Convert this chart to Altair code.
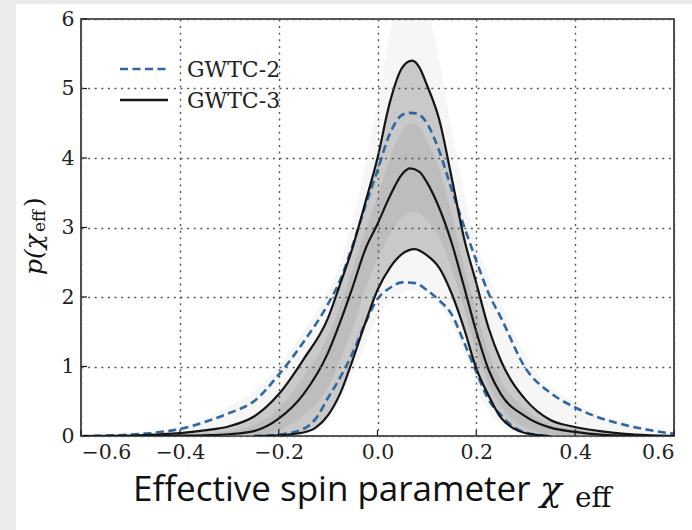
import altair as alt
import pandas as pd

# ---- data ----
X_TICKS = [-0.6, -0.4, -0.2, 0.0, 0.2, 0.4, 0.6]
Y_TICKS = [0, 1, 2, 3, 4, 5, 6]

# GWTC-3 90% upper bound (black)
B3_HI_X = [-0.6, -0.5, -0.45, -0.4, -0.35, -0.3, -0.25, -0.2, -0.15, -0.1, -0.075, -0.05, -0.025, 0.0, 0.025, 0.05, 0.07, 0.085, 0.1, 0.125, 0.15, 0.175, 0.2, 0.225, 0.25, 0.3, 0.35, 0.4, 0.45, 0.5, 0.55, 0.6]
B3_HI_Y = [0, 0.005, 0.02, 0.04, 0.08, 0.14, 0.28, 0.6, 1.1, 1.7, 2.2, 2.72, 3.35, 4.0, 4.8, 5.3, 5.4, 5.3, 5.05, 4.55, 3.72, 2.85, 2.2, 1.55, 1.08, 0.52, 0.23, 0.13, 0.07, 0.03, 0.01, 0.0]
# GWTC-3 median (black)
B3_MED_X = [-0.5, -0.4, -0.35, -0.3, -0.25, -0.2, -0.15, -0.1, -0.075, -0.05, -0.025, 0.0, 0.025, 0.05, 0.066, 0.085, 0.1, 0.125, 0.15, 0.175, 0.2, 0.225, 0.25, 0.3, 0.35, 0.4, 0.45, 0.5, 0.6]
B3_MED_Y = [0, 0.005, 0.01, 0.025, 0.07, 0.25, 0.6, 1.2, 1.65, 2.15, 2.68, 3.05, 3.45, 3.77, 3.85, 3.8, 3.65, 3.28, 2.78, 2.15, 1.5, 0.95, 0.6, 0.28, 0.12, 0.06, 0.02, 0.005, 0]
# GWTC-3 90% lower bound (black)
B3_LO_X = [-0.25, -0.2, -0.15, -0.125, -0.1, -0.075, -0.05, -0.025, 0.0, 0.025, 0.05, 0.075, 0.1, 0.125, 0.15, 0.175, 0.2, 0.225, 0.25, 0.275, 0.3, 0.35]
B3_LO_Y = [0, 0.01, 0.05, 0.12, 0.3, 0.62, 1.1, 1.62, 2.1, 2.42, 2.62, 2.69, 2.6, 2.42, 2.05, 1.55, 0.97, 0.58, 0.26, 0.11, 0.04, 0]
# GWTC-2 90% upper bound (blue dashed)
B2_HI_X = [-0.6, -0.55, -0.5, -0.45, -0.4, -0.35, -0.3, -0.25, -0.2, -0.15, -0.1, -0.075, -0.05, -0.025, 0.0, 0.025, 0.05, 0.065, 0.08, 0.1, 0.125, 0.15, 0.175, 0.2, 0.225, 0.25, 0.3, 0.35, 0.4, 0.45, 0.5, 0.55, 0.6]
B2_HI_Y = [0, 0.005, 0.02, 0.05, 0.1, 0.2, 0.33, 0.5, 0.88, 1.35, 1.9, 2.25, 2.75, 3.3, 3.82, 4.35, 4.62, 4.65, 4.64, 4.5, 4.1, 3.55, 3.02, 2.52, 2.05, 1.7, 0.97, 0.62, 0.41, 0.26, 0.16, 0.085, 0.03]
# GWTC-2 90% lower bound (blue dashed)
B2_LO_X = [-0.25, -0.2, -0.15, -0.125, -0.1, -0.075, -0.05, -0.025, 0.0, 0.025, 0.05, 0.075, 0.1, 0.125, 0.15, 0.175, 0.2, 0.225, 0.25, 0.275, 0.3, 0.35]
B2_LO_Y = [0, 0.02, 0.1, 0.25, 0.55, 0.85, 1.2, 1.62, 1.97, 2.13, 2.21, 2.2, 2.1, 1.95, 1.75, 1.35, 0.92, 0.52, 0.3, 0.13, 0.05, 0]

# envelopes of the individual grey population draws
BAND_X = [-0.6, -0.5, -0.4, -0.35, -0.3, -0.25, -0.2, -0.15, -0.1, -0.075, -0.05, -0.025, 0.0, 0.025, 0.05, 0.07, 0.085, 0.1, 0.125, 0.15, 0.175, 0.2, 0.225, 0.25, 0.3, 0.35, 0.4, 0.45, 0.5, 0.6]
INNER_HI = [0, 0.005, 0.04, 0.08, 0.14, 0.28, 0.6, 1.1, 1.7, 2.2, 2.72, 3.35, 4.0, 4.8, 5.3, 5.4, 5.3, 5.05, 4.55, 3.72, 2.85, 2.2, 1.55, 1.08, 0.52, 0.23, 0.13, 0.07, 0.03, 0]
INNER_LO = [0, 0, 0, 0, 0, 0, 0.01, 0.05, 0.3, 0.62, 1.1, 1.62, 2.1, 2.42, 2.62, 2.68, 2.67, 2.6, 2.42, 2.05, 1.55, 0.97, 0.58, 0.26, 0.04, 0, 0, 0, 0, 0]
# denser core of the grey draws, around the median
CORE_HI = [0, 0, 0.02, 0.04, 0.07, 0.16, 0.4, 0.85, 1.45, 1.9, 2.4, 2.95, 3.45, 4.0, 4.4, 4.5, 4.45, 4.25, 3.85, 3.2, 2.45, 1.8, 1.2, 0.8, 0.38, 0.17, 0.09, 0.04, 0.01, 0]
CORE_LO = [0, 0, 0, 0, 0, 0, 0.08, 0.3, 0.7, 1.1, 1.55, 2.1, 2.55, 2.9, 3.15, 3.22, 3.2, 3.1, 2.85, 2.4, 1.85, 1.2, 0.75, 0.42, 0.12, 0.03, 0.01, 0, 0, 0]
OUTER_HI = [0, 0.03, 0.14, 0.25, 0.42, 0.65, 1.0, 1.5, 2.1, 2.5, 3.1, 3.9, 4.8, 5.8, 6.4, 6.6, 6.5, 6.2, 5.4, 4.4, 3.5, 2.8, 2.3, 1.9, 1.15, 0.7, 0.48, 0.3, 0.2, 0.05]
OUTER_LO = [0, 0, 0, 0, 0, 0, 0, 0.03, 0.2, 0.5, 0.9, 1.3, 1.7, 1.95, 2.05, 2.1, 2.1, 2.05, 1.9, 1.6, 1.2, 0.7, 0.35, 0.15, 0.02, 0, 0, 0, 0, 0]

LEGEND_LABELS = ["GWTC-2", "GWTC-3"]
X_TITLE = "Effective spin parameter"

# ---- layout constants ----
W, H = 593, 417
BLUE = "#2f67a3"
BLACK = "#151515"
SERIF = "DejaVu Serif"
FRAME_GREY = "#ebebeb"

xs = alt.Scale(domain=[-0.6, 0.6], nice=False)
ys = alt.Scale(domain=[0, 6], nice=False)

one = pd.DataFrame({"a": [0]})

# light grey page margins (left and top strips)
strip_left = alt.Chart(one).mark_rect(color=FRAME_GREY).encode(
    x=alt.value(-81), x2=alt.value(-65), y=alt.value(-19), y2=alt.value(511))
strip_top = alt.Chart(one).mark_rect(color=FRAME_GREY).encode(
    x=alt.value(-81), x2=alt.value(611), y=alt.value(-19), y2=alt.value(-15))

band_df = pd.DataFrame({"x": BAND_X, "ilo": INNER_LO, "ihi": INNER_HI,
                        "clo": CORE_LO, "chi": CORE_HI,
                        "olo": OUTER_LO, "ohi": OUTER_HI})

outer = alt.Chart(band_df).mark_area(color="#9a9a9a", opacity=0.09, clip=True,
                                     interpolate="monotone").encode(
    x=alt.X("x:Q", scale=xs, title=None,
            axis=alt.Axis(values=X_TICKS, format=".1f", labelPadding=6, zindex=1)),
    y=alt.Y("olo:Q", scale=ys, title=None,
            axis=alt.Axis(values=Y_TICKS, format="d", labelPadding=7, zindex=1)),
    y2="ohi:Q",
)
inner = alt.Chart(band_df).mark_area(color="#8a8a8a", opacity=0.42, clip=True,
                                     interpolate="monotone").encode(
    x="x:Q", y="ilo:Q", y2="ihi:Q"
)
core = alt.Chart(band_df).mark_area(color="#6a6a6a", opacity=0.12, clip=True,
                                    interpolate="monotone").encode(
    x="x:Q", y="clo:Q", y2="chi:Q"
)


def curve(xv, yv, color, dash=None, width=2.0):
    df = pd.DataFrame({"x": xv, "y": yv})
    kw = dict(color=color, strokeWidth=width, interpolate="monotone", clip=True)
    if dash:
        kw["strokeDash"] = dash
    return alt.Chart(df).mark_line(**kw).encode(x="x:Q", y="y:Q")


lines = [
    curve(B2_HI_X, B2_HI_Y, BLUE, [8, 4.5], 2.6),
    curve(B2_LO_X, B2_LO_Y, BLUE, [8, 4.5], 2.6),
    curve(B3_HI_X, B3_HI_Y, BLACK, None, 2.2),
    curve(B3_MED_X, B3_MED_Y, BLACK, None, 2.2),
    curve(B3_LO_X, B3_LO_Y, BLACK, None, 2.2),
]

# inward ticks
xt = alt.Chart(pd.DataFrame({"x": X_TICKS})).mark_rule(color=BLACK, strokeWidth=1.2).encode(
    x="x:Q", y=alt.value(H), y2=alt.value(H - 6))
yt = alt.Chart(pd.DataFrame({"y": Y_TICKS})).mark_rule(color=BLACK, strokeWidth=1.2).encode(
    y="y:Q", x=alt.value(0), x2=alt.value(6))

# legend
leg_l2 = alt.Chart(one).mark_rule(color=BLUE, strokeWidth=2.6, strokeDash=[8, 4.5]).encode(
    x=alt.value(39), x2=alt.value(87), y=alt.value(50))
leg_l3 = alt.Chart(one).mark_rule(color=BLACK, strokeWidth=2.4).encode(
    x=alt.value(39), x2=alt.value(87), y=alt.value(81))
leg_t2 = alt.Chart(pd.DataFrame({"t": [LEGEND_LABELS[0]]})).mark_text(
    font=SERIF, fontSize=22, align="left", baseline="middle", color="#222").encode(
    x=alt.value(106), y=alt.value(51), text="t:N")
leg_t3 = alt.Chart(pd.DataFrame({"t": [LEGEND_LABELS[1]]})).mark_text(
    font=SERIF, fontSize=22, align="left", baseline="middle", color="#222").encode(
    x=alt.value(106), y=alt.value(82), text="t:N")

# x title (sans text + math chi_eff)
xt1 = alt.Chart(pd.DataFrame({"t": [X_TITLE]})).mark_text(
    font="Open Sans", fontSize=35, align="left", baseline="alphabetic", color="#111").encode(
    x=alt.value(52), y=alt.value(482), text="t:N")
xt2 = alt.Chart(pd.DataFrame({"t": ["χ"]})).mark_text(
    font=SERIF, fontSize=36, fontStyle="italic", align="left", baseline="alphabetic", color="#111").encode(
    x=alt.value(459), y=alt.value(482), text="t:N")
xt3 = alt.Chart(pd.DataFrame({"t": ["eff"]})).mark_text(
    font=SERIF, fontSize=28, align="left", baseline="alphabetic", color="#111").encode(
    x=alt.value(494), y=alt.value(488), text="t:N")

# y title p(chi_eff) rotated
yt1 = alt.Chart(pd.DataFrame({"t": ["p(χ"]})).mark_text(
    font=SERIF, fontSize=25, fontStyle="italic", align="left", baseline="alphabetic",
    angle=270, color="#111").encode(x=alt.value(-39), y=alt.value(256), text="t:N")
yt2 = alt.Chart(pd.DataFrame({"t": ["eff"]})).mark_text(
    font=SERIF, fontSize=17, align="left", baseline="alphabetic",
    angle=270, color="#111").encode(x=alt.value(-36), y=alt.value(213), text="t:N")
yt3 = alt.Chart(pd.DataFrame({"t": [")"]})).mark_text(
    font=SERIF, fontSize=25, align="left", baseline="alphabetic",
    angle=270, color="#111").encode(x=alt.value(-39), y=alt.value(188), text="t:N")

chart = alt.layer(
    strip_left, strip_top, outer, inner, core, *lines, xt, yt,
    leg_l2, leg_l3, leg_t2, leg_t3, xt1, xt2, xt3, yt1, yt2, yt3
).properties(
    width=W, height=H,
    padding={"left": 81, "top": 19, "right": 18, "bottom": 94},
    autosize=alt.AutoSizeParams(type="none"),
    background="white",
).configure_view(
    stroke="#222", strokeWidth=1.6
).configure_axis(
    domain=False, ticks=False, grid=True, gridColor="#555", gridDash=[2, 4.6],
    gridWidth=1.4, labelFont=SERIF, labelFontSize=20.5, labelColor="#222",
)

chart.save("out.html", embed_options={"renderer": "svg", "actions": False})
